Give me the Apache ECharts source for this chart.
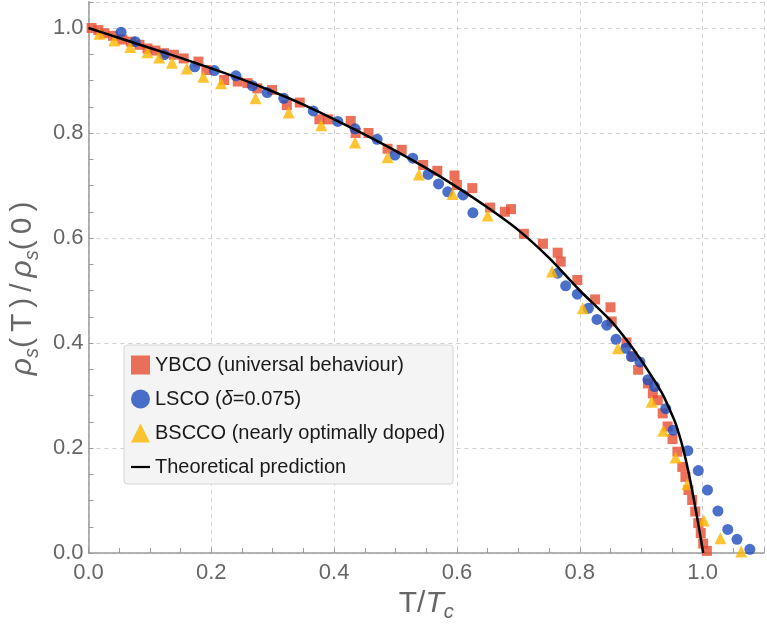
<!DOCTYPE html>
<html><head><meta charset="utf-8">
<script src="https://cdn.jsdelivr.net/npm/echarts@6/dist/echarts.min.js"></script>
<style>html,body{margin:0;padding:0;background:#fff}#c{width:767px;height:631px}</style>
</head><body><div id="c"></div>
<script>
// ---- data ----
const seriesNames = ['YBCO (universal behaviour)', 'LSCO (δ=0.075)', 'BSCCO (nearly optimally doped)', 'Theoretical prediction'];
const xTickValues = [0.0, 0.2, 0.4, 0.6, 0.8, 1.0];
const yTickValues = [0.0, 0.2, 0.4, 0.6, 0.8, 1.0];

const ybco = [
  [0.005,1.0],[0.016,0.996],[0.026,0.99],[0.04,0.985],[0.055,0.978],[0.069,0.974],[0.083,0.968],
  [0.096,0.961],[0.109,0.957],[0.123,0.952],[0.139,0.949],[0.155,0.942],[0.179,0.936],[0.192,0.92],
  [0.221,0.901],[0.243,0.898],[0.259,0.895],[0.275,0.885],[0.299,0.882],[0.323,0.853],[0.344,0.858],
  [0.376,0.826],[0.39,0.826],[0.427,0.823],[0.435,0.8],[0.456,0.8],[0.487,0.77],[0.51,0.768],
  [0.545,0.739],[0.568,0.728],[0.596,0.719],[0.6,0.701],[0.625,0.695],[0.654,0.658],[0.678,0.65],
  [0.688,0.655],[0.709,0.608],[0.74,0.589],[0.764,0.572],[0.769,0.555],[0.796,0.52],[0.825,0.483],
  [0.85,0.468],[0.852,0.441],[0.876,0.401],[0.886,0.375],[0.895,0.349],[0.911,0.323],[0.919,0.304],
  [0.927,0.291],[0.935,0.266],[0.943,0.241],[0.951,0.217],[0.959,0.193],[0.967,0.164],[0.972,0.145],
  [0.977,0.12],[0.983,0.101],[0.988,0.079],[0.993,0.057],[0.997,0.038],[1.001,0.018],[1.007,0.004]
];
const lsco = [
  [0.053,0.992],[0.076,0.974],[0.123,0.949],[0.173,0.926],[0.205,0.919],[0.24,0.909],[0.267,0.89],
  [0.291,0.877],[0.318,0.866],[0.366,0.842],[0.406,0.822],[0.434,0.808],[0.47,0.788],[0.499,0.758],
  [0.528,0.752],[0.553,0.721],[0.57,0.703],[0.585,0.688],[0.61,0.682],[0.626,0.648],[0.764,0.533],
  [0.777,0.509],[0.796,0.493],[0.814,0.466],[0.828,0.445],[0.844,0.434],[0.859,0.407],[0.875,0.39],
  [0.884,0.374],[0.898,0.364],[0.911,0.33],[0.922,0.317],[0.94,0.275],[0.952,0.234],[0.976,0.195],
  [0.993,0.157],[1.008,0.12],[1.025,0.08],[1.041,0.045],[1.056,0.026],[1.077,0.007]
];
const bscco = [
  [0.018,0.989],[0.042,0.976],[0.068,0.964],[0.096,0.954],[0.115,0.944],[0.136,0.934],[0.16,0.923],
  [0.187,0.907],[0.216,0.895],[0.272,0.866],[0.326,0.839],[0.379,0.815],[0.434,0.782],[0.487,0.754],
  [0.538,0.721],[0.593,0.684],[0.65,0.643],[0.755,0.536],[0.805,0.466],[0.862,0.39],[0.917,0.288],
  [0.936,0.233],[0.956,0.182],[0.975,0.131],[1.002,0.062],[1.029,0.028],[1.063,0.003]
];
const theory = [
  [0,1.0],[0.05,0.981],[0.1,0.962],[0.15,0.943],[0.2,0.923],[0.25,0.902],[0.3,0.879],[0.35,0.854],
  [0.4,0.826],[0.45,0.797],[0.5,0.766],[0.55,0.733],[0.6,0.697],[0.65,0.658],[0.7,0.615],[0.75,0.562],
  [0.8,0.50],[0.85,0.443],[0.88,0.40],[0.9,0.367],[0.913,0.344],[0.925,0.322],[0.935,0.302],
  [0.945,0.277],[0.956,0.247],[0.962,0.225],[0.968,0.2],[0.976,0.16],[0.985,0.107],[0.993,0.055],[1.001,0.0]
];

// ---- styling ----
const FONT = '"Liberation Sans", Arial, Helvetica, sans-serif';
const AX = '#9a9a9a', LBL = '#666';
const RED = '#E64D31', BLUE = '#1D4CBB', YEL = '#FDB700';
const isMajor = (v, list) => list.some(t => Math.abs(t - v) < 1e-6);
const TS = '\u2009';

const chart = echarts.init(document.getElementById('c'), null, {renderer: 'canvas'});
const titleRich = {
  n: {fontSize: 30, color: LBL, fontFamily: FONT, lineHeight: 38},
  i: {fontSize: 30, color: LBL, fontFamily: FONT, fontStyle: 'italic', lineHeight: 38},
  sub: {fontSize: 20, color: LBL, fontFamily: FONT, fontStyle: 'italic', verticalAlign: 'bottom', lineHeight: 20}
};
chart.setOption({
  animation: false,
  backgroundColor: '#fff',
  grid: {left: 88.5, top: 1.75, width: 686.4, height: 551.25, containLabel: false},
  xAxis: [
    {type: 'value', min: 0, max: 1.1, interval: 0.2, position: 'bottom',
     axisLine: {show: false}, axisTick: {show: false},
     axisLabel: {fontSize: 22, color: LBL, fontFamily: FONT, margin: 9,
       formatter: v => isMajor(v, xTickValues) ? v.toFixed(1) : ''},
     splitLine: {show: true, lineStyle: {color: '#cfcfcf', width: 1, type: [4, 4]}},
     name: '{n|T/}{i|T}{sub|c}', nameLocation: 'middle', nameGap: 25,
     nameTextStyle: {rich: titleRich}},
    {type: 'value', min: 0, max: 1.1, interval: 0.05, position: 'bottom',
     axisLine: {show: true, onZero: false, lineStyle: {color: AX, width: 1.5}},
     axisTick: {show: true, inside: true, length: 5, lineStyle: {color: AX, width: 1}},
     axisLabel: {show: false}, splitLine: {show: false}}
  ],
  yAxis: [
    {type: 'value', min: 0, max: 1.05, interval: 0.2, position: 'left',
     axisLine: {show: false}, axisTick: {show: false},
     axisLabel: {fontSize: 22, color: LBL, fontFamily: FONT, margin: 5,
       formatter: v => isMajor(v, yTickValues) ? v.toFixed(1) : ''},
     splitLine: {show: true, lineStyle: {color: '#cfcfcf', width: 1, type: [4, 4]}},
     name: '{i|ρ}{sub|s}{n|(' + TS + 'T' + TS + ')' + TS + '/' + TS + '}{i|ρ}{sub|s}{n|(' + TS + '0' + TS + ')}',
     nameLocation: 'middle', nameGap: 42, nameRotate: 90,
     nameTextStyle: {rich: titleRich, padding: [0, 22, 0, 0]}},
    {type: 'value', min: 0, max: 1.05, interval: 0.05, position: 'left',
     axisLine: {show: true, onZero: false, lineStyle: {color: AX, width: 1.5}},
     axisTick: {show: true, inside: true, length: 5, lineStyle: {color: AX, width: 1}},
     axisLabel: {show: false}, splitLine: {show: false}}
  ],
  legend: {
    show: true, orient: 'vertical', left: 124, top: 345,
    backgroundColor: '#f4f4f4', borderColor: '#d6d6d6', borderWidth: 1, borderRadius: 3,
    padding: [10, 8, 7, 7], itemGap: 14, itemWidth: 19, itemHeight: 19, symbolKeepAspect: true,
    textStyle: {fontSize: 20, color: '#1a1a1a', fontFamily: FONT, lineHeight: 20,
      rich: {n: {fontSize: 20, color: '#1a1a1a', fontFamily: FONT},
             i: {fontSize: 20, color: '#1a1a1a', fontFamily: FONT, fontStyle: 'italic'}}},
    formatter: name => name === seriesNames[1] ? '{n|LSCO (}{i|δ}{n|=0.075)}' : name,
    data: [
      {name: seriesNames[0], icon: 'rect'},
      {name: seriesNames[1], icon: 'circle'},
      {name: seriesNames[2], icon: 'triangle'},
      {name: seriesNames[3], icon: 'path://M0,0L19,0L19,2.2L0,2.2Z', itemStyle: {color: '#000'}}
    ]
  },
  series: [
    {name: seriesNames[0], type: 'scatter', data: ybco, symbol: 'rect', symbolSize: 10,
     itemStyle: {color: RED}, z: 3},
    {name: seriesNames[1], type: 'scatter', data: lsco, symbol: 'circle', symbolSize: 11,
     itemStyle: {color: BLUE}, z: 4},
    {name: seriesNames[2], type: 'scatter', data: bscco, symbol: 'triangle', symbolSize: 12,
     itemStyle: {color: YEL}, z: 5},
    {name: seriesNames[3], type: 'line', data: theory, symbol: 'none', showSymbol: false,
     smooth: 0.25,
     lineStyle: {color: '#000', width: 2.5}, itemStyle: {color: '#000'}, z: 6}
  ]
});
</script></body></html>
